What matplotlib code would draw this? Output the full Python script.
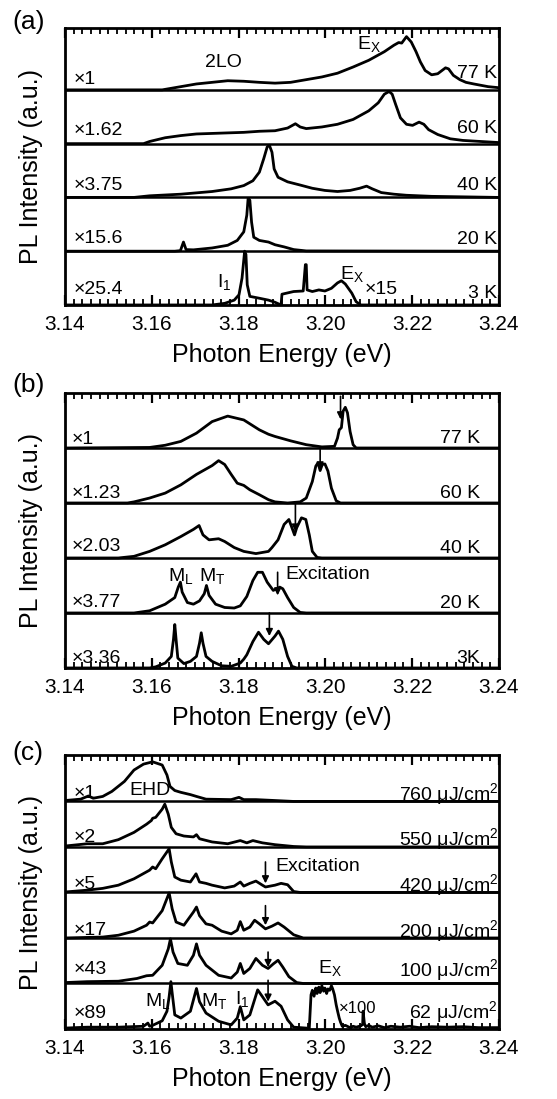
#PL spectra, three stacked panels
#each spectrum is a list of (energy eV, intensity) points
#intensity is in units of one slot height, 0 = its own baseline
import matplotlib.pyplot as plt
from matplotlib.ticker import MultipleLocator

plt.rcParams['font.family'] = ['Liberation Sans', 'DejaVu Sans']
plt.rcParams['mathtext.fontset'] = 'custom'
plt.rcParams['mathtext.rm'] = 'Liberation Sans'
plt.rcParams['mathtext.it'] = 'Liberation Sans:italic'
plt.rcParams['mathtext.bf'] = 'Liberation Sans:bold'

#----- panel (a): temperature series, weak excitation -----
a_77K = [(3.1400, 0), (3.1624, 0), (3.1667, 0.06), (3.1703, 0.11), (3.1739, 0.14), (3.1775, 0.17),
         (3.1812, 0.16), (3.1848, 0.14), (3.1884, 0.125), (3.1920, 0.14), (3.1956, 0.19), (3.1992, 0.24),
         (3.2028, 0.31), (3.2064, 0.425), (3.2100, 0.55), (3.2136, 0.71), (3.2158, 0.83), (3.2169, 0.88),
         (3.2176, 0.87), (3.2187, 0.99), (3.2198, 0.89), (3.2209, 0.71), (3.2219, 0.52), (3.2230, 0.36),
         (3.2245, 0.28), (3.2259, 0.30), (3.2277, 0.41), (3.2284, 0.39), (3.2295, 0.27), (3.2310, 0.19),
         (3.2324, 0.14), (3.2342, 0.11), (3.2375, 0.06), (3.2400, 0.04)]
a_60K = [(3.1400, 0), (3.1581, 0), (3.1595, 0.04), (3.1631, 0.11), (3.1667, 0.15), (3.1703, 0.18),
         (3.1739, 0.19), (3.1775, 0.20), (3.1812, 0.21), (3.1848, 0.23), (3.1884, 0.24), (3.1913, 0.29),
         (3.1931, 0.37), (3.1942, 0.31), (3.1956, 0.28), (3.1992, 0.31), (3.2028, 0.36), (3.2064, 0.45),
         (3.2100, 0.61), (3.2122, 0.76), (3.2136, 0.92), (3.2147, 0.97), (3.2154, 0.92), (3.2162, 0.73),
         (3.2173, 0.48), (3.2187, 0.36), (3.2201, 0.34), (3.2216, 0.40), (3.2227, 0.36), (3.2238, 0.26),
         (3.2259, 0.17), (3.2288, 0.09), (3.2317, 0.06), (3.2400, 0.02)]
a_40K = [(3.1400, 0), (3.1559, 0), (3.1595, 0.03), (3.1667, 0.06), (3.1739, 0.11), (3.1783, 0.16),
         (3.1812, 0.22), (3.1833, 0.31), (3.1848, 0.47), (3.1858, 0.72), (3.1866, 0.94), (3.1871, 0.97),
         (3.1877, 0.84), (3.1882, 0.53), (3.1891, 0.375), (3.1913, 0.29), (3.1942, 0.23), (3.1970, 0.17),
         (3.1999, 0.13), (3.2028, 0.11), (3.2057, 0.13), (3.2079, 0.17), (3.2095, 0.21), (3.2108, 0.16),
         (3.2129, 0.09), (3.2158, 0.06), (3.2187, 0.04), (3.2245, 0.02), (3.2400, 0)]
a_20K = [(3.1400, 0), (3.1653, 0), (3.1666, 0.01), (3.1673, 0.17), (3.1679, 0.03), (3.1696, 0.025),
         (3.1739, 0.06), (3.1775, 0.11), (3.1797, 0.20), (3.1812, 0.36), (3.1819, 0.67), (3.1822, 0.98),
         (3.1826, 0.95), (3.1830, 0.54), (3.1835, 0.26), (3.1848, 0.20), (3.1869, 0.17), (3.1884, 0.12),
         (3.1905, 0.08), (3.1927, 0.03), (3.1956, 0.005), (3.2400, 0)]
a_3K_x25 = [(3.1400, 0), (3.1739, 0), (3.1768, 0.03), (3.1790, 0.09), (3.1801, 0.19), (3.1808, 0.50),
            (3.1814, 1.00), (3.1817, 0.94), (3.1820, 0.375), (3.1826, 0.16), (3.1848, 0.125),
            (3.1869, 0.09), (3.1884, 0.05), (3.1895, 0.01)]
a_3K_x15 = [(3.1898, 0), (3.1900, 0.20), (3.1927, 0.25), (3.1949, 0.26), (3.1954, 0.75), (3.1956, 0.75),
            (3.1958, 0.28), (3.1970, 0.25), (3.1985, 0.28), (3.1999, 0.26), (3.2014, 0.31), (3.2028, 0.41),
            (3.2037, 0.45), (3.2046, 0.39), (3.2061, 0.22), (3.2071, 0.06), (3.2082, 0), (3.2400, 0)]

#----- panel (b): temperature series, resonant excitation -----
b_77K = [(3.1400, 0), (3.1595, 0.01), (3.1631, 0.05), (3.1667, 0.12), (3.1703, 0.27), (3.1739, 0.48),
         (3.1775, 0.58), (3.1812, 0.51), (3.1848, 0.33), (3.1869, 0.25), (3.1884, 0.21), (3.1920, 0.13),
         (3.1956, 0.06), (3.1992, 0.02), (3.2021, 0.03), (3.2028, 0.18), (3.2032, 0.33), (3.2037, 0.37),
         (3.2041, 0.67), (3.2046, 0.74), (3.2051, 0.64), (3.2057, 0.30), (3.2064, 0.06), (3.2071, 0),
         (3.2400, 0)]
b_60K = [(3.1400, 0), (3.1544, 0), (3.1559, 0.02), (3.1595, 0.09), (3.1631, 0.18), (3.1667, 0.33),
         (3.1703, 0.52), (3.1739, 0.68), (3.1754, 0.77), (3.1768, 0.70), (3.1783, 0.52), (3.1797, 0.36),
         (3.1812, 0.32), (3.1826, 0.24), (3.1848, 0.15), (3.1869, 0.06), (3.1884, 0.02), (3.1913, 0),
         (3.1942, 0.02), (3.1956, 0.09), (3.1970, 0.39), (3.1978, 0.67), (3.1983, 0.73), (3.1988, 0.59),
         (3.1993, 0.70), (3.1999, 0.71), (3.2006, 0.58), (3.2014, 0.27), (3.2025, 0.04), (3.2035, 0),
         (3.2400, 0)]
b_40K = [(3.1400, 0), (3.1523, 0), (3.1559, 0.03), (3.1595, 0.12), (3.1631, 0.24), (3.1667, 0.39),
         (3.1696, 0.52), (3.1709, 0.59), (3.1718, 0.42), (3.1732, 0.33), (3.1754, 0.35), (3.1768, 0.30),
         (3.1790, 0.19), (3.1812, 0.12), (3.1840, 0.08), (3.1869, 0.12), (3.1877, 0.19), (3.1891, 0.33),
         (3.1905, 0.61), (3.1916, 0.70), (3.1923, 0.55), (3.1929, 0.42), (3.1934, 0.55), (3.1945, 0.73),
         (3.1955, 0.70), (3.1963, 0.42), (3.1970, 0.12), (3.1981, 0.01), (3.1992, 0), (3.2400, 0)]
b_20K = [(3.1400, 0), (3.1559, 0), (3.1595, 0.04), (3.1631, 0.16), (3.1653, 0.28), (3.1661, 0.47),
         (3.1666, 0.56), (3.1670, 0.38), (3.1682, 0.19), (3.1696, 0.16), (3.1710, 0.22), (3.1721, 0.35),
         (3.1726, 0.50), (3.1732, 0.32), (3.1747, 0.16), (3.1768, 0.10), (3.1790, 0.09), (3.1804, 0.13),
         (3.1819, 0.30), (3.1833, 0.59), (3.1844, 0.74), (3.1855, 0.74), (3.1866, 0.56), (3.1880, 0.41),
         (3.1895, 0.47), (3.1902, 0.44), (3.1913, 0.28), (3.1927, 0.10), (3.1942, 0.01), (3.1956, 0),
         (3.2400, 0)]
b_3K = [(3.1400, 0), (3.1595, 0), (3.1609, 0.02), (3.1631, 0.09), (3.1645, 0.21), (3.1650, 0.52),
        (3.1653, 0.79), (3.1656, 0.52), (3.1660, 0.18), (3.1674, 0.08), (3.1689, 0.12), (3.1703, 0.21),
        (3.1710, 0.45), (3.1714, 0.64), (3.1718, 0.45), (3.1725, 0.21), (3.1739, 0.12), (3.1761, 0.04),
        (3.1783, 0.03), (3.1804, 0.09), (3.1812, 0.16), (3.1819, 0.24), (3.1833, 0.48), (3.1846, 0.65),
        (3.1858, 0.52), (3.1869, 0.44), (3.1884, 0.58), (3.1892, 0.67), (3.1902, 0.52), (3.1913, 0.21),
        (3.1923, 0.03), (3.1934, 0), (3.2400, 0)]

#----- panel (c): excitation density series -----
c_760 = [(3.1400, 0.02), (3.1436, 0.05), (3.1454, 0.12), (3.1465, 0.07), (3.1487, 0.11), (3.1508, 0.22),
         (3.1537, 0.44), (3.1559, 0.69), (3.1581, 0.82), (3.1602, 0.87), (3.1624, 0.80), (3.1635, 0.58),
         (3.1642, 0.33), (3.1653, 0.24), (3.1667, 0.20), (3.1689, 0.15), (3.1703, 0.11), (3.1725, 0.05),
         (3.1783, 0.04), (3.1801, 0.09), (3.1812, 0.04), (3.1840, 0.04), (3.1884, 0.02), (3.1927, 0),
         (3.2400, 0)]
c_550 = [(3.1400, 0.02), (3.1451, 0.07), (3.1487, 0.07), (3.1523, 0.16), (3.1559, 0.32), (3.1588, 0.50),
         (3.1599, 0.58), (3.1602, 0.63), (3.1609, 0.65), (3.1624, 0.83), (3.1630, 0.94), (3.1638, 0.72),
         (3.1645, 0.43), (3.1656, 0.29), (3.1674, 0.24), (3.1696, 0.22), (3.1703, 0.27), (3.1710, 0.18),
         (3.1739, 0.11), (3.1775, 0.07), (3.1804, 0.14), (3.1819, 0.09), (3.1833, 0.14), (3.1855, 0.09),
         (3.1884, 0.05), (3.1927, 0.01), (3.1956, 0), (3.2400, 0)]
c_420 = [(3.1400, 0.01), (3.1451, 0.05), (3.1487, 0.09), (3.1523, 0.16), (3.1559, 0.30), (3.1595, 0.49),
         (3.1602, 0.56), (3.1609, 0.52), (3.1624, 0.74), (3.1640, 0.96), (3.1645, 0.67), (3.1653, 0.34),
         (3.1667, 0.27), (3.1689, 0.23), (3.1702, 0.41), (3.1710, 0.23), (3.1725, 0.20), (3.1739, 0.16),
         (3.1768, 0.10), (3.1790, 0.14), (3.1804, 0.23), (3.1812, 0.14), (3.1826, 0.20), (3.1840, 0.25),
         (3.1855, 0.16), (3.1862, 0.12), (3.1884, 0.16), (3.1898, 0.20), (3.1913, 0.17), (3.1927, 0.02),
         (3.1942, 0), (3.2400, 0)]
c_200 = [(3.1400, 0), (3.1487, 0.02), (3.1523, 0.06), (3.1559, 0.15), (3.1588, 0.28), (3.1595, 0.35),
         (3.1602, 0.33), (3.1624, 0.60), (3.1640, 0.99), (3.1647, 0.64), (3.1656, 0.35), (3.1674, 0.28),
         (3.1696, 0.57), (3.1703, 0.68), (3.1710, 0.49), (3.1725, 0.31), (3.1739, 0.28), (3.1761, 0.15),
         (3.1783, 0.09), (3.1797, 0.17), (3.1804, 0.36), (3.1812, 0.17), (3.1826, 0.24), (3.1837, 0.39),
         (3.1848, 0.31), (3.1862, 0.20), (3.1877, 0.26), (3.1891, 0.33), (3.1905, 0.24), (3.1927, 0.07),
         (3.1949, 0), (3.2400, 0)]
c_100 = [(3.1400, 0.02), (3.1451, 0.04), (3.1523, 0.05), (3.1566, 0.11), (3.1588, 0.17), (3.1602, 0.18),
         (3.1624, 0.40), (3.1638, 0.76), (3.1643, 0.98), (3.1649, 0.69), (3.1660, 0.44), (3.1682, 0.40),
         (3.1696, 0.62), (3.1703, 0.87), (3.1710, 0.62), (3.1725, 0.40), (3.1754, 0.18), (3.1783, 0.12),
         (3.1797, 0.25), (3.1804, 0.44), (3.1812, 0.22), (3.1826, 0.33), (3.1840, 0.55), (3.1855, 0.40),
         (3.1868, 0.33), (3.1880, 0.43), (3.1891, 0.51), (3.1902, 0.36), (3.1916, 0.15), (3.1934, 0.02),
         (3.1949, 0), (3.2400, 0)]
c_62_x89 = [(3.1400, 0.02), (3.1451, 0.04), (3.1523, 0.04), (3.1581, 0.06), (3.1591, 0.13), (3.1595, 0.06),
            (3.1602, 0.08), (3.1624, 0.18), (3.1635, 0.39), (3.1640, 0.71), (3.1644, 1.04), (3.1648, 0.71),
            (3.1653, 0.31), (3.1667, 0.24), (3.1689, 0.39), (3.1703, 0.89), (3.1710, 0.60), (3.1725, 0.35),
            (3.1754, 0.17), (3.1783, 0.09), (3.1797, 0.24), (3.1804, 0.49), (3.1812, 0.20), (3.1826, 0.31),
            (3.1844, 0.86), (3.1855, 0.71), (3.1868, 0.53), (3.1884, 0.61), (3.1898, 0.50), (3.1913, 0.20),
            (3.1927, 0.04), (3.1956, 0.02)]
c_62_x100 = [(3.1963, 0.02), (3.1967, 0.75), (3.1970, 0.85), (3.1974, 0.72), (3.1978, 0.90), (3.1981, 0.78),
             (3.1985, 0.92), (3.1988, 0.80), (3.1992, 0.95), (3.1996, 0.83), (3.1999, 0.90), (3.2003, 0.78),
             (3.2006, 0.88), (3.2010, 0.85), (3.2014, 0.95), (3.2017, 0.88), (3.2021, 0.75), (3.2025, 0.53),
             (3.2028, 0.40), (3.2032, 0.24), (3.2035, 0.15), (3.2039, 0.06), (3.2046, 0.08), (3.2057, 0.03),
             (3.2064, 0.06), (3.2071, 0.04), (3.2082, 0.07), (3.2086, 0.10), (3.2087, 0.39), (3.2090, 0.12),
             (3.2093, 0.05), (3.2100, 0.08), (3.2108, 0.04), (3.2122, 0.07), (3.2136, 0.03), (3.2151, 0.06),
             (3.2173, 0.04), (3.2194, 0.06), (3.2216, 0.03), (3.2245, 0.05), (3.2281, 0.04), (3.2317, 0.05),
             (3.2353, 0.03), (3.2400, 0.03)]

#labels, top spectrum first
a_factors = ['×1', '×1.62', '×3.75', '×15.6', '×25.4']
a_temps = ['77 K', '60 K', '40 K', '20 K', '3 K']
b_factors = ['×1', '×1.23', '×2.03', '×3.77', '×3.36']
b_temps = ['77 K', '60 K', '40 K', '20 K', '3K']
c_factors = ['×1', '×2', '×5', '×17', '×43', '×89']
c_powers = ['760', '550', '420', '200', '100', '62']

#-----------------------------------------------------------
fig = plt.figure(figsize=(5.57, 10.99), dpi=100)
ax_a = fig.add_axes([0.1167, 0.7225, 0.779, 0.252])
ax_b = fig.add_axes([0.1167, 0.3922, 0.779, 0.2502])
ax_c = fig.add_axes([0.1167, 0.0637, 0.779, 0.2493])


def draw_spectra(ax, spectra):
    n = len(spectra)
    for k, segs in enumerate(spectra):
        off = n - 1 - k
        if off > 0:
            ax.axhline(off, color='black', lw=1.8)
        for seg in segs:
            e = [p[0] for p in seg]
            y = [p[1] + off for p in seg]
            ax.plot(e, y, color='black', lw=2.0, solid_joinstyle='round')


def style_axes(ax, ytop):
    ax.set_xlim(3.14, 3.24)
    ax.set_ylim(0, ytop)
    ax.xaxis.set_major_locator(MultipleLocator(0.02))
    ax.xaxis.set_minor_locator(MultipleLocator(0.002))
    ax.xaxis.set_major_formatter(plt.FormatStrFormatter('%.2f'))
    ax.set_yticks([])
    ax.tick_params(axis='x', which='both', direction='in', top=True, bottom=True)
    ax.tick_params(axis='x', which='major', length=7, width=1.6, labelsize=15, pad=7)
    ax.tick_params(axis='x', which='minor', length=4, width=1.3)
    for s in ax.spines.values():
        s.set_linewidth(2.0)
    ax.set_xlabel('Photon Energy (eV)', fontsize=18, labelpad=7)
    ax.set_ylabel('PL Intensity (a.u.)', fontsize=18, labelpad=16)


def arrow(ax, e, y0, y1):
    ax.annotate('', xy=(e, y1), xytext=(e, y0),
                arrowprops=dict(arrowstyle='-|>', color='black', lw=1.2,
                                mutation_scale=10, shrinkA=0, shrinkB=0))


#panel (a)
draw_spectra(ax_a, [[a_77K], [a_60K], [a_40K], [a_20K], [a_3K_x25, a_3K_x15]])
style_axes(ax_a, 5.15)
left_y = [0.2, 0.25, 0.23, 0.24, 0.28]
right_y = [0.3, 0.28, 0.22, 0.22, 0.22]
for k in range(5):
    off = 4 - k
    ax_a.text(3.1420, off + left_y[k], a_factors[k], fontsize=14, va='center', ha='left')
    ax_a.text(3.2397, off + right_y[k], a_temps[k], fontsize=14, va='center', ha='right')
ax_a.text(3.1765, 4.5, '2LO', fontsize=14, ha='center', va='center')
ax_a.text(3.2100, 4.85, 'E$_\\mathrm{X}$', fontsize=14, ha='center', va='center')
ax_a.text(3.1768, 0.42, 'I$_1$', fontsize=14, ha='center', va='center')
ax_a.text(3.2061, 0.58, 'E$_\\mathrm{X}$', fontsize=14, ha='center', va='center')
ax_a.text(3.2129, 0.28, '×15', fontsize=14, ha='center', va='center')

#panel (b)
draw_spectra(ax_b, [[b_77K], [b_60K], [b_40K], [b_20K], [b_3K]])
style_axes(ax_b, 5.0)
left_y = [0.15, 0.18, 0.21, 0.19, 0.18]
for k in range(5):
    off = 4 - k
    ax_b.text(3.1415, off + left_y[k], b_factors[k], fontsize=14, va='center', ha='left')
    ax_b.text(3.2357, off + 0.18, b_temps[k], fontsize=14, va='center', ha='right')
arrow(ax_b, 3.2035, 4.94, 4.52)
arrow(ax_b, 3.1988, 4.0, 3.61)
arrow(ax_b, 3.1931, 3.0, 2.48)
arrow(ax_b, 3.1890, 1.74, 1.32)
arrow(ax_b, 3.1871, 1.0, 0.58)
ax_b.text(3.1909, 1.70, 'Excitation', fontsize=14, ha='left', va='center')
ax_b.text(3.1667, 1.68, 'M$_\\mathrm{L}$', fontsize=14, ha='center', va='center')
ax_b.text(3.1739, 1.68, 'M$_\\mathrm{T}$', fontsize=14, ha='center', va='center')

#panel (c)
draw_spectra(ax_c, [[c_760], [c_550], [c_420], [c_200], [c_100], [c_62_x89, c_62_x100]])
style_axes(ax_c, 6.02)
left_y = [0.18, 0.2, 0.17, 0.17, 0.31, 0.35]
right_y = [0.17, 0.17, 0.16, 0.15, 0.29, 0.38]
for k in range(6):
    off = 5 - k
    ax_c.text(3.1420, off + left_y[k], c_factors[k], fontsize=14, va='center', ha='left')
    ax_c.text(3.2398, off + right_y[k], c_powers[k] + ' μJ/cm$^2$', fontsize=14, va='center', ha='right')
arrow(ax_c, 3.1862, 3.67, 3.2)
arrow(ax_c, 3.1862, 2.71, 2.28)
arrow(ax_c, 3.1868, 1.69, 1.36)
arrow(ax_c, 3.1868, 1.07, 0.6)
ax_c.text(3.1884, 3.56, 'Excitation', fontsize=14, ha='left', va='center')
ax_c.text(3.1595, 5.25, 'EHD', fontsize=14, ha='center', va='center')
ax_c.text(3.2010, 1.33, 'E$_\\mathrm{X}$', fontsize=14, ha='center', va='center')
ax_c.text(3.2075, 0.46, '×100', fontsize=12, ha='center', va='center')
ax_c.text(3.1613, 0.62, 'M$_\\mathrm{L}$', fontsize=14, ha='center', va='center')
ax_c.text(3.1743, 0.62, 'M$_\\mathrm{T}$', fontsize=14, ha='center', va='center')
ax_c.text(3.1808, 0.67, 'I$_1$', fontsize=14, ha='center', va='center')

#panel letters
fig.text(0.022, 0.991, '(a)', fontsize=19, va='top', ha='left')
fig.text(0.022, 0.661, '(b)', fontsize=19, va='top', ha='left')
fig.text(0.022, 0.326, '(c)', fontsize=19, va='top', ha='left')

plt.savefig('out.png', dpi=100)
